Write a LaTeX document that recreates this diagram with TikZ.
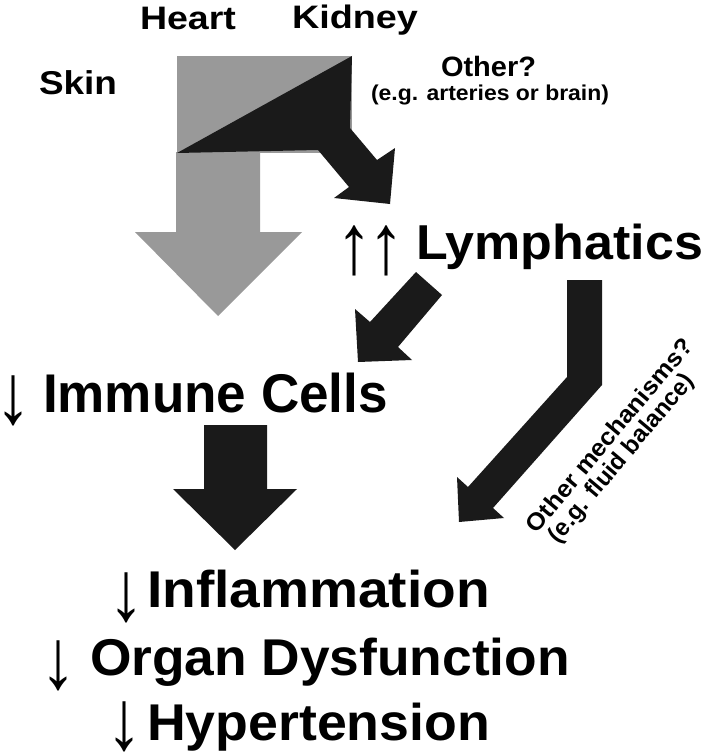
\documentclass[tikz,border=0pt]{standalone}
\usepackage{fontspec}
\setmainfont{Liberation Sans}
\usepackage{graphicx}
\definecolor{shadegray}{RGB}{153,153,153}
\definecolor{nearblack}{RGB}{26,26,26}
\newcommand\fitw[3]{\resizebox{#1pt}{\height}{\fontsize{#2pt}{#2pt}\selectfont\bfseries #3}}
\newcommand\arrsym[2]{\scalebox{1}[1.18]{\fontsize{#1pt}{#1pt}\selectfont #2}}
\tikzset{
  lbl/.style={anchor=base west, inner sep=0pt, outer sep=0pt},
  rlbl/.style={anchor=center, inner sep=0pt, outer sep=0pt, rotate=50},
  grayshape/.style={fill=shadegray, draw=none},
  blackshape/.style={fill=nearblack, draw=none},
}
\begin{document}
\begin{tikzpicture}[x=1pt,y=-1pt]
\useasboundingbox (0,0) rectangle (709,752);
% gray square and arrow
\fill[grayshape] (177,56) rectangle (352,153);
\fill[grayshape] (176,152) -- (260,152) -- (260,232) -- (302,232) -- (218,316) -- (135,232) -- (176,232) -- cycle;
% black bent arrow from kidney
\fill[blackshape] (352,56) -- (177,153) -- (318,150) -- (349,187) -- (334,198) -- (390,204) -- (395,148) -- (377,160) -- (350,128) -- cycle;
% lymphatics -> immune cells
\fill[blackshape] (416,272) -- (442,295) -- (398,347) -- (412,360) -- (358,362) -- (355,309) -- (370,322) -- cycle;
% lymphatics -> other mechanisms
\fill[blackshape] (567,280) -- (602,280) -- (602,385) -- (493,508) -- (504,518) -- (459,522) -- (457,477) -- (468,487) -- (567,377) -- cycle;
% immune -> inflammation
\fill[blackshape] (204,425) -- (267,425) -- (267,489) -- (297,489) -- (235,550) -- (173,489) -- (204,489) -- cycle;

% labels
\node[lbl] (heart) at (140,30) {\fitw{96}{32.5}{Heart}};
\node[lbl] (kidney) at (292,29) {\fitw{126}{32.5}{Kidney}};
\node[lbl] (skin) at (39,95) {\fitw{78}{33}{Skin}};
\node[lbl] (other) at (441,77) {\fitw{95}{28}{Other?}};
\node[lbl] (eg) at (371,100) {\fitw{238}{21.5}{(e.g. arteries or brain)}};
\node[lbl] (uparr) at (336,273) {\arrsym{72}{↑\kern-4pt↑}};
\node[lbl] (lymph) at (416,259) {\fitw{287}{49}{Lymphatics}};
\node[lbl] (darr1) at (-5,423) {\arrsym{72}{↓}};
\node[lbl] (immune) at (43,412) {\fitw{345}{54.5}{Immune Cells}};
\node[lbl] (darr2) at (108,620) {\arrsym{72}{↓}};
\node[lbl] (infl) at (147,607) {\fitw{343}{51.7}{Inflammation}};
\node[lbl] (darr3) at (40,688) {\arrsym{72}{↓}};
\node[lbl] (organ) at (90,675) {\fitw{480}{51.7}{Organ Dysfunction}};
\node[lbl] (darr4) at (106,749) {\arrsym{72}{↓}};
\node[lbl] (hyper) at (147,740) {\fitw{343}{51.7}{Hypertension}};
% rotated labels
\node[rlbl] (mech1) at (609,435) {\fitw{245}{24}{Other mechanisms?}};
\node[rlbl] (mech2) at (622,459) {\fitw{212}{24}{(e.g. fluid balance)}};
\end{tikzpicture}
\end{document}
